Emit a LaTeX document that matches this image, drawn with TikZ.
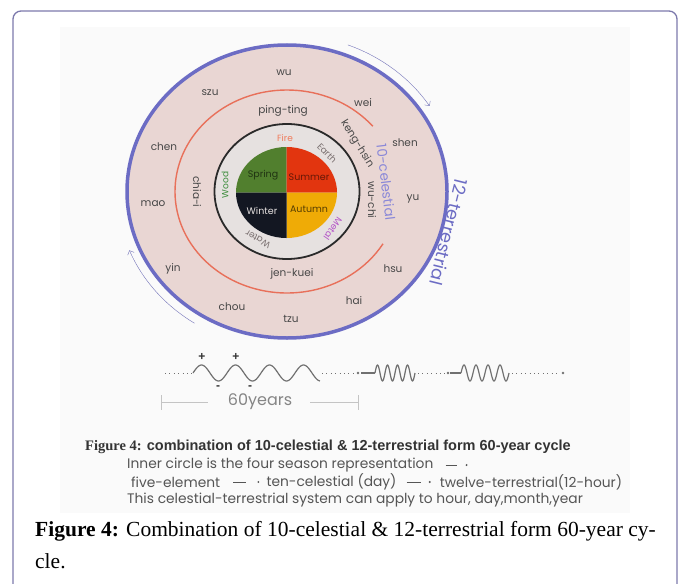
\documentclass[tikz,border=0pt]{standalone}
\usepackage{fontspec}
\setmainfont{Poppins}
\newfontfamily\serifcap{Liberation Serif}
\newfontfamily\sanscap{Liberation Sans}
\usetikzlibrary{arrows.meta}

\definecolor{framepurple}{HTML}{7C79AC}
\definecolor{panelgray}{HTML}{FAFAFA}
\definecolor{ringpink}{HTML}{E9D6D3}
\definecolor{ringblue}{HTML}{6C6CC4}
\definecolor{celestblue}{HTML}{8A88D8}
\definecolor{arcred}{HTML}{E8705A}
\definecolor{elemgray}{HTML}{E6E1E0}
\definecolor{circblack}{HTML}{2A2A2A}
\definecolor{springc}{HTML}{517F2E}
\definecolor{summerc}{HTML}{E2350F}
\definecolor{winterc}{HTML}{131722}
\definecolor{autumnc}{HTML}{EFAB06}
\definecolor{firec}{HTML}{F07C5C}
\definecolor{metalc}{HTML}{B455C8}
\definecolor{woodc}{HTML}{3E8E3E}
\definecolor{elemtext}{HTML}{7A7070}
\definecolor{txtgray}{HTML}{474747}
\definecolor{wavegray}{HTML}{707070}
\definecolor{spangray}{HTML}{C4C4C4}
\definecolor{capgray}{HTML}{555555}
\definecolor{capdark}{HTML}{333333}
\definecolor{cycblue}{HTML}{7272B8}

\begin{document}
\begin{tikzpicture}[x=1pt, y=1pt,
  lbl/.style={font=\fontsize{10.5}{12}\selectfont, text=txtgray, inner sep=0pt},
  elem/.style={font=\fontsize{9}{10}\selectfont, inner sep=0pt},
  season/.style={font=\fontsize{9.5}{11}\selectfont, inner sep=0pt},
  cycarrow/.style={thin, cycblue, -{Straight Barb[length=3.5pt]}},
  wave/.style={line width=1.2pt, wavegray},
  dotline/.style={line width=1pt, wavegray, dash pattern=on 1pt off 3.4pt},
  spanline/.style={spangray, line width=0.8pt},
  pm/.style={font=\sanscap\bfseries\fontsize{12}{13}\selectfont, text=capdark, inner sep=0pt},
  capline/.style={font=\fontsize{13.8}{15}\selectfont, text=capgray, anchor=west, inner sep=0pt},
  cue/.style={capgray, line width=0.6pt}]

\useasboundingbox (0,0) rectangle (679,-583);

% page frame and picture panel
\fill [panelgray] (60,-27) rectangle (630,-513);
\draw [framepurple, line width=1.3pt, rounded corners=8pt] (13,-600) -- (13,-11) -- (677,-11) -- (677,-600);

%% Draw the rings

% 12-terrestrial ring
\coordinate (c) at (287,-191.5);
\filldraw [fill=ringpink, draw=ringblue, line width=3.5pt] (c) ellipse [x radius=160, y radius=146.5];

% 10-celestial arc
\draw [arcred, line width=1.4pt] (c) ++(40:112 and 101.5) arc [start angle=40, end angle=329, x radius=112, y radius=101.5];

% five-element ring
\filldraw [fill=elemgray, draw=circblack, line width=1.8pt] (c) ellipse [x radius=72.5, y radius=67.5];

% four seasons
\coordinate (p) at (286.5,-192.5);
\fill [springc] (p) -- ++(-50.5,0) arc [start angle=180, end angle=90, x radius=50.5, y radius=45.5] -- cycle;
\fill [summerc] (p) -- ++(0,45.5) arc [start angle=90, end angle=0, x radius=50.5, y radius=45.5] -- cycle;
\fill [autumnc] (p) -- ++(50.5,0) arc [start angle=0, end angle=-90, x radius=50.5, y radius=45.5] -- cycle;
\fill [winterc] (p) -- ++(0,-45.5) arc [start angle=-90, end angle=-180, x radius=50.5, y radius=45.5] -- cycle;

\node [season, text=springc!40!black] (spring) at (263,-175) {Spring};
\node [season, text=summerc!45!black] (summer) at (309,-177) {Summer};
\node [season, text=elemgray] (winter) at (262,-211) {Winter};
\node [season, text=autumnc!35!black] (autumn) at (309,-209) {Autumn};

% elements
\node [elem, text=firec] (fire) at (285,-138) {Fire};
\node [elem, text=elemtext, rotate=-45] (earth) at (327,-153) {Earth};
\node [elem, text=metalc, rotate=-125] (metal) at (333,-229) {Metal};
\node [elem, text=elemtext, rotate=150] (water) at (258,-239) {Water};
\node [elem, text=woodc, rotate=90] (wood) at (225,-185) {Wood};

% celestial stems
\node [lbl] (pingting) at (283,-111) {ping-ting};
\node [lbl, rotate=-58] (genghsin) at (357,-144) {keng-hsin};
\node [lbl, rotate=-90] (wuchi) at (372,-200) {wu-chi};
\node [lbl] (jenkuei) at (292,-274) {jen-kuei};
\node [lbl, rotate=-90] (chiai) at (197,-192) {chia-i};

% terrestrial branches
\node [lbl] (wu) at (284,-73) {wu};
\node [lbl] (wei) at (363,-103) {wei};
\node [lbl] (shen) at (405,-143) {shen};
\node [lbl] (yu) at (413,-199) {yu};
\node [lbl] (hsu) at (393,-269) {hsu};
\node [lbl] (hai) at (354,-301) {hai};
\node [lbl] (tzu) at (291,-319) {tzu};
\node [lbl] (chou) at (232,-307) {chou};
\node [lbl] (yin) at (173,-269) {yin};
\node [lbl] (mao) at (153,-204) {mao};
\node [lbl] (chen) at (164,-147) {chen};
\node [lbl] (szu) at (210,-93) {szu};

% ring titles
\node [rotate=-83, text=celestblue, font=\fontsize{13.5}{15}\selectfont, inner sep=0pt] (tencel) at (386,-182) {10-celestial};
\node [rotate=-104, text=ringblue, font=\fontsize{17.5}{19}\selectfont, inner sep=0pt] (twelveter) at (449,-232) {12-terrestrial};

% turning direction
\draw [cycarrow] (c) ++(69:170 and 157) arc [start angle=69, end angle=33, x radius=170, y radius=157];
\draw [cycarrow] (c) ++(237:170 and 157) arc [start angle=237, end angle=202, x radius=170, y radius=157];

%% Draw the cycle waves

% one 60-year wave
\draw [dotline] (165,-373) -- (192,-373);
\draw [wave] plot [domain=193:320, samples=160] (\x, {-373+8*sin((\x-193)/34*360)});
\node [pm] (plusa) at (202,-357) {+};
\node [pm] (plusb) at (236,-357) {+};
\node [pm] (minusa) at (218,-388) {-};
\node [pm] (minusb) at (250,-388) {-};

% squeezed waves
\draw [dotline] (322,-373) -- (356,-373);
\fill [wavegray] (358,-373) circle (1.3);
\draw [wave] (361,-373) -- (375,-373);
\draw [wave] plot [domain=375:415, samples=120] (\x, {-373+8*sin((\x-375)/10*360)});
\draw [dotline] (418,-373) -- (446,-373);
\fill [wavegray] (448,-373) circle (1.3);
\draw [wave] (450,-373) -- (461,-373);
\draw [wave] plot [domain=461:509, samples=120] (\x, {-373+8*sin((\x-461)/12*360)});
\draw [dotline] (512,-373) -- (560,-373);
\fill [wavegray] (563,-373) circle (1.4);

% 60 years span
\node [font=\fontsize{16}{17}\selectfont, text=wavegray!85, inner sep=0pt] (sixty) at (260,-402) {60years};
\draw [spanline] (161,-395) -- (161,-410);
\draw [spanline] (161,-402) -- (208,-402);
\draw [spanline] (310,-402) -- (358,-402);
\draw [spanline] (358,-395) -- (358,-410);

%% Captions

% caption in the picture
\node [anchor=west, inner sep=0pt, text=capdark, font=\fontsize{14.5}{16}\selectfont] (figin) at (85,-447)
  {{\serifcap\bfseries Figure 4:} {\sanscap\bfseries combination of 10-celestial \& 12-terrestrial form 60-year cycle}};
\node [capline] (inner) at (127,-465) {Inner circle is the four season representation};
\draw [cue] ([xshift=12pt]inner.east) -- ++(11,0);
\fill [capgray] ([xshift=33pt]inner.east) circle (1.1);

\node [capline] (fivee) at (131,-482) {five-element};
\node [capline] (tencd) at ([xshift=46pt]fivee.east) {ten-celestial (day)};
\node [capline] (twelveth) at ([xshift=43pt]tencd.east) {twelve-terrestrial(12-hour)};
\draw [cue] ([xshift=13pt]fivee.east) -- ([xshift=-20pt]tencd.west);
\fill [capgray] ([xshift=-8pt]tencd.west) circle (1.1);
\draw [cue] ([xshift=10pt]tencd.east) -- ([xshift=-19pt]twelveth.west);
\fill [capgray] ([xshift=-10pt]twelveth.west) circle (1.1);

\node [capline] (applies) at (127,-500) {This celestial-terrestrial system can apply to hour, day,month,year};

% page caption
\node [anchor=west, inner sep=0pt, font=\serifcap\fontsize{21.5}{26}\selectfont] (figcap) at (35,-531)
  {\textbf{Figure 4:} Combination of 10-celestial \& 12-terrestrial form 60-year cy-};
\node [anchor=west, inner sep=0pt, font=\serifcap\fontsize{21.5}{26}\selectfont] (figcapb) at (35,-561) {cle.};

\end{tikzpicture}
\end{document}
